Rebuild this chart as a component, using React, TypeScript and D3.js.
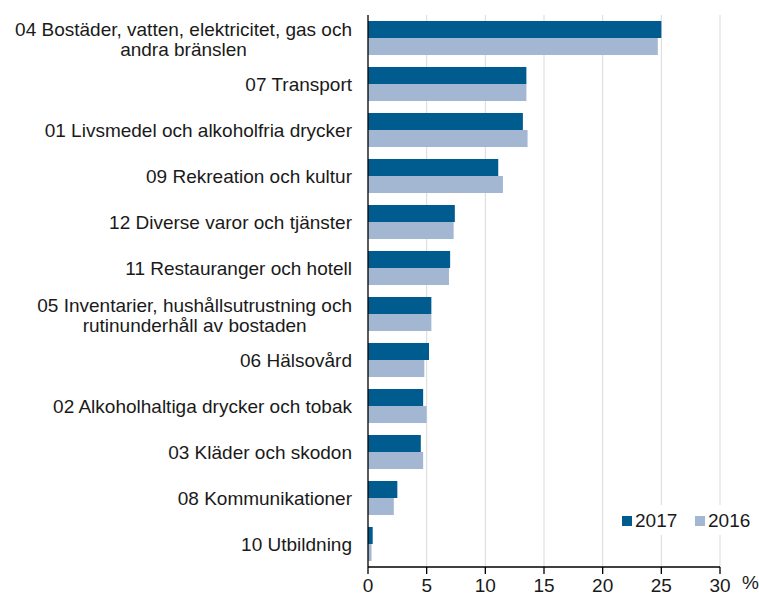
import React, { useMemo } from "react";
import * as d3 from "d3";

const categories: string[][] = [
  ["04 Bostäder, vatten, elektricitet, gas och", "andra bränslen"],
  ["07 Transport"],
  ["01 Livsmedel och alkoholfria drycker"],
  ["09 Rekreation och kultur"],
  ["12 Diverse varor och tjänster"],
  ["11 Restauranger och hotell"],
  ["05 Inventarier, hushållsutrustning och", "rutinunderhåll av bostaden"],
  ["06 Hälsovård"],
  ["02 Alkoholhaltiga drycker och tobak"],
  ["03 Kläder och skodon"],
  ["08 Kommunikationer"],
  ["10 Utbildning"],
];
const values2017: number[] = [25.0, 13.5, 13.2, 11.1, 7.4, 7.0, 5.4, 5.2, 4.7, 4.5, 2.5, 0.4];
const values2016: number[] = [24.7, 13.5, 13.6, 11.5, 7.3, 6.9, 5.4, 4.8, 5.0, 4.7, 2.2, 0.3];
const seriesNames: string[] = ["2017", "2016"];
const xTicks: number[] = [0, 5, 10, 15, 20, 25, 30];

const W = 759;
const H = 596;
const FONT = "'Liberation Sans', Arial, sans-serif";
const FS = 19;
const DARK = "#005B8F";
const LIGHT = "#A3B7D3";

function measure(t: string): number {
  const c = document.createElement("canvas");
  const ctx = c.getContext("2d");
  if (!ctx) return t.length * FS * 0.5;
  ctx.font = `${FS}px 'Liberation Sans'`;
  return ctx.measureText(t).width;
}

export default function App() {
  const left = 368, right = 720, top = 15, bottom = 567;
  const x = d3.scaleLinear().domain([0, 30]).range([left, right]);
  const keys = categories.map((_, i) => String(i));
  const y = d3.scaleBand<string>().domain(keys).range([top, bottom]).paddingInner(0.26).paddingOuter(0.13);
  const y1 = d3.scaleBand<string>().domain(seriesNames).range([0, y.bandwidth()]);
  const labelRight = 352;

  const labelWidths = useMemo(() => categories.map((ls) => Math.max(...ls.map(measure))), []);

  return (
    <svg width={W} height={H} style={{ position: "absolute", left: 0, top: 0, background: "#fff" }} fontFamily={FONT}>
      {xTicks.filter((t) => t > 0).map((t) => (
        <line key={"g" + t} x1={x(t)} x2={x(t)} y1={top} y2={bottom} stroke="#d9d9d9" strokeWidth={1} />
      ))}
      {keys.map((k, i) => {
        const y0 = y(k)!;
        return (
          <g key={"b" + k}>
            <rect x={x(0)} y={y0 + y1("2017")!} width={x(values2017[i]) - x(0)} height={y1.bandwidth()} fill={DARK} />
            <rect x={x(0)} y={y0 + y1("2016")!} width={x(values2016[i]) - x(0)} height={y1.bandwidth()} fill={LIGHT} />
          </g>
        );
      })}
      {categories.map((lines, i) => {
        const c = y(keys[i])! + y.bandwidth() / 2;
        if (lines.length === 1) {
          return (
            <text key={"l" + i} x={labelRight} y={c + 7} textAnchor="end" fontSize={FS} fill="#1a1a1a">
              {lines[0]}
            </text>
          );
        }
        const cx = labelRight - labelWidths[i] / 2;
        return (
          <text key={"l" + i} textAnchor="middle" fontSize={FS} fill="#1a1a1a">
            {lines.map((ln, j) => (
              <tspan key={j} x={cx} y={c - 2 + j * 20}>{ln}</tspan>
            ))}
          </text>
        );
      })}
      <line x1={left} x2={left} y1={top} y2={bottom} stroke="#000" strokeWidth={1.3} />
      <line x1={left} x2={right} y1={bottom} y2={bottom} stroke="#000" strokeWidth={1.3} />
      {xTicks.map((t) => (
        <g key={"t" + t}>
          <line x1={x(t)} x2={x(t)} y1={bottom} y2={bottom + 7} stroke="#000" strokeWidth={1.3} />
          <text x={x(t)} y={592} textAnchor="middle" fontSize={FS} fill="#1a1a1a">{t}</text>
        </g>
      ))}
      <text x={742} y={589} fontSize={FS} fill="#1a1a1a">%</text>
      <rect x={614} y={505} width={140} height={30} fill="#fff" />
      <rect x={622} y={516} width={10} height={10} fill={DARK} />
      <text x={635} y={527} fontSize={FS} fill="#1a1a1a">{seriesNames[0]}</text>
      <rect x={695} y={516} width={10} height={10} fill={LIGHT} />
      <text x={708} y={527} fontSize={FS} fill="#1a1a1a">{seriesNames[1]}</text>
    </svg>
  );
}
